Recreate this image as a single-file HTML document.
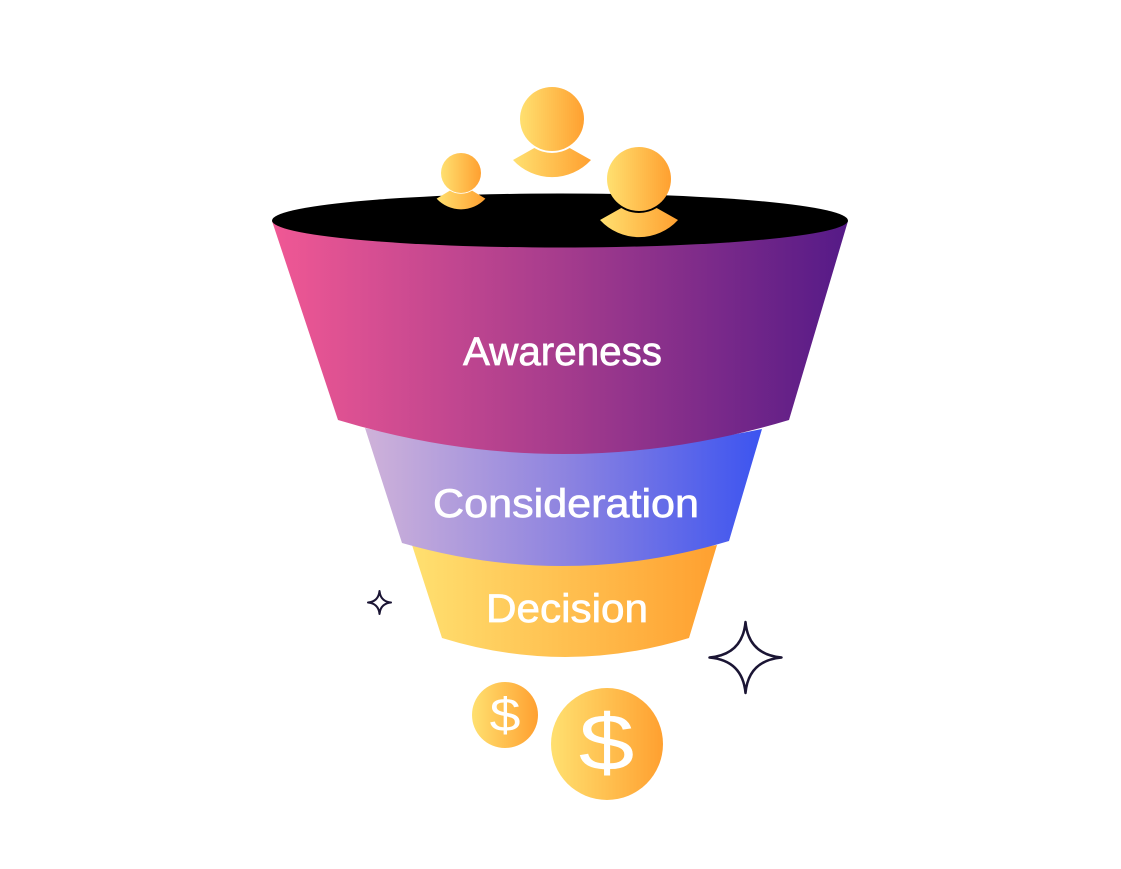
<!DOCTYPE html>
<html>
<head>
<meta charset="utf-8">
<style>
  html,body{margin:0;padding:0;background:#fff;}
  body{width:1121px;height:869px;overflow:hidden;}
  svg{display:block;}
  .lbl{font-family:"Liberation Sans",sans-serif;font-size:40px;fill:#fff;stroke:#fff;stroke-width:0.7px;}
</style>
</head>
<body>
<svg width="1121" height="869" viewBox="0 0 1121 869" xmlns="http://www.w3.org/2000/svg">
  <defs>
    <linearGradient id="gAw" gradientUnits="userSpaceOnUse" x1="272" y1="0" x2="848" y2="0">
      <stop offset="0" stop-color="#F05894"/>
      <stop offset="0.5" stop-color="#A63C8D"/>
      <stop offset="1" stop-color="#551A87"/>
    </linearGradient>
    <linearGradient id="gCo" gradientUnits="userSpaceOnUse" x1="365" y1="0" x2="762" y2="0">
      <stop offset="0" stop-color="#CFB2D9"/>
      <stop offset="0.5" stop-color="#8E84E0"/>
      <stop offset="1" stop-color="#3C54F0"/>
    </linearGradient>
    <linearGradient id="gDe" gradientUnits="userSpaceOnUse" x1="412" y1="0" x2="717" y2="0">
      <stop offset="0" stop-color="#FFE070"/>
      <stop offset="1" stop-color="#FFA030"/>
    </linearGradient>
    <linearGradient id="gY" x1="0" y1="0" x2="1" y2="0">
      <stop offset="0" stop-color="#FFE070"/>
      <stop offset="1" stop-color="#FFA030"/>
    </linearGradient>
  </defs>

  <!-- Decision band -->
  <path d="M412,545 Q565,570 717,545 L689,638 Q565,676 442,638 Z" fill="url(#gDe)"/>
  <!-- Consideration band -->
  <path d="M365,428 Q563,470 762,429 L729,541 Q565,590 402,543 Z" fill="url(#gCo)"/>
  <!-- Awareness band -->
  <path d="M272,221 L848,221 L789,420 Q563,488 338,420 Z" fill="url(#gAw)"/>
  <!-- Funnel opening -->
  <ellipse cx="560" cy="220.5" rx="288" ry="27" fill="#000"/>

  <!-- Top person -->
  <circle cx="552" cy="119" r="32" fill="url(#gY)"/>
  <path d="M513,160 L534.3,148 A34,34 0 0 0 569.7,148 L591,160 A53,53 0 0 1 513,160 Z" fill="url(#gY)"/>

  <!-- Small person -->
  <circle cx="461" cy="173" r="20" fill="url(#gY)"/>
  <path d="M436.6,198.6 L449.9,190.6 A21.3,21.3 0 0 0 472.1,190.6 L485.4,198.6 A33.1,33.1 0 0 1 436.6,198.6 Z" fill="url(#gY)"/>

  <!-- Right person -->
  <circle cx="639" cy="179" r="32" fill="url(#gY)"/>
  <path d="M600,220 L621.3,208 A34,34 0 0 0 656.7,208 L678,220 A53,53 0 0 1 600,220 Z" fill="url(#gY)"/>

  <!-- Labels -->
  <text class="lbl" x="463" y="365" textLength="199" lengthAdjust="spacingAndGlyphs">Awareness</text>
  <text class="lbl" x="433" y="517" textLength="266" lengthAdjust="spacingAndGlyphs">Consideration</text>
  <text class="lbl" x="486" y="622" textLength="162" lengthAdjust="spacingAndGlyphs">Decision</text>

  <!-- Stars -->
  <path d="M379.5,591 Q380.5,601.5 391,602.5 Q380.5,603.5 379.5,614 Q378.5,603.5 368,602.5 Q378.5,601.5 379.5,591 Z" fill="none" stroke="#1B1534" stroke-width="2" stroke-linejoin="round"/>
  <path d="M745.5,622 Q748.5,654.5 781.5,657.5 Q748.5,660.5 745.5,693 Q742.5,660.5 709.5,657.5 Q742.5,654.5 745.5,622 Z" fill="none" stroke="#1B1534" stroke-width="2.5" stroke-linejoin="round"/>

  <!-- Coins -->
  <circle cx="505" cy="715" r="33" fill="url(#gY)"/>
  <circle cx="607" cy="744" r="56" fill="url(#gY)"/>
  <text transform="translate(505,731) scale(1.18,1)" x="0" y="0" text-anchor="middle" font-family="Liberation Sans, sans-serif" font-size="47" fill="#fff">$</text>
  <text transform="translate(606.5,770) scale(1.25,1)" x="0" y="0" text-anchor="middle" font-family="Liberation Sans, sans-serif" font-size="80" fill="#fff">$</text>
</svg>
</body>
</html>
